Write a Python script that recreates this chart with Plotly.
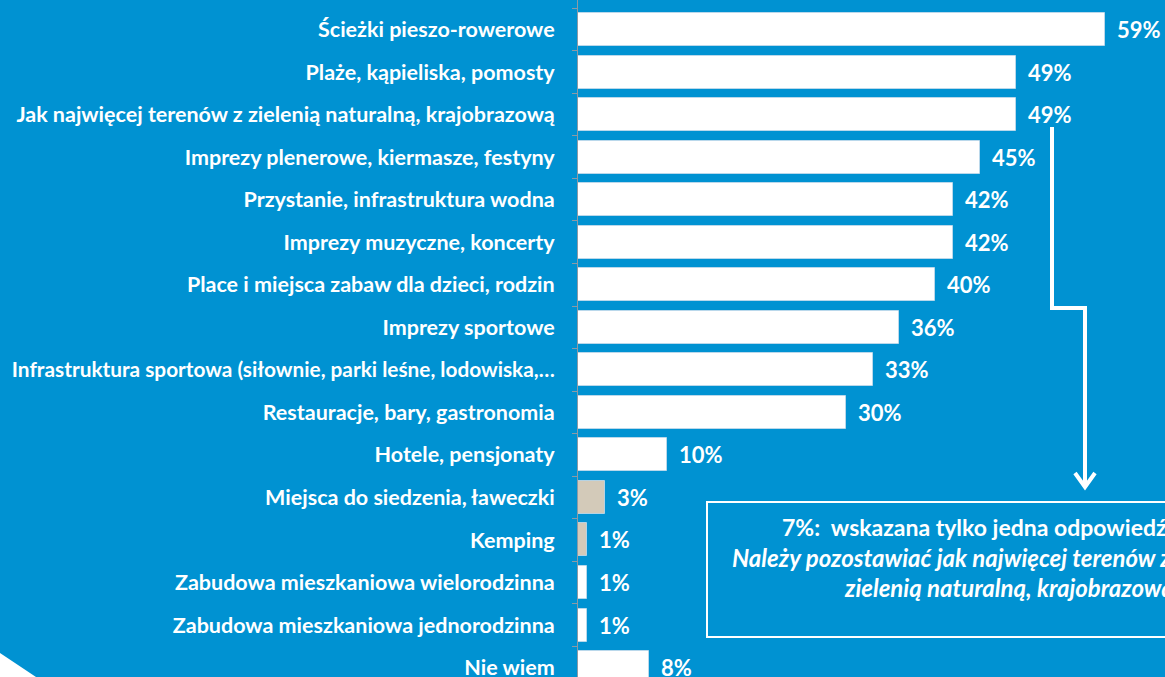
import plotly.graph_objects as go

categories = [
    "Ścieżki pieszo-rowerowe",
    "Plaże, kąpieliska, pomosty",
    "Jak najwięcej terenów z zielenią naturalną, krajobrazową",
    "Imprezy plenerowe, kiermasze, festyny",
    "Przystanie, infrastruktura wodna",
    "Imprezy muzyczne, koncerty",
    "Place i miejsca zabaw dla dzieci, rodzin",
    "Imprezy sportowe",
    "Infrastruktura sportowa (siłownie, parki leśne, lodowiska,…",
    "Restauracje, bary, gastronomia",
    "Hotele, pensjonaty",
    "Miejsca do siedzenia, ławeczki",
    "Kemping",
    "Zabudowa mieszkaniowa wielorodzinna",
    "Zabudowa mieszkaniowa jednorodzinna",
    "Nie wiem",
]
values = [59, 49, 49, 45, 42, 42, 40, 36, 33, 30, 10, 3, 1, 1, 1, 8]
highlight = [False] * 11 + [True, True] + [False] * 3
value_labels = [f"{v}%" for v in values]

note_line1 = "7%:  wskazana tylko jedna odpowiedź"
note_line2 = "Należy pozostawiać jak najwięcej terenów z"
note_line3 = "zielenią naturalną, krajobrazową"

BG = "#0092D2"
BEIGE = "#D3CAB9"
W, H = 1165, 677
L = 578
FONT = "Lato"

ypos = list(range(len(categories)))
colors = [BEIGE if h else "white" for h in highlight]

def tick_label(c):
    if len(c) > 56:
        return f"<span style='font-size:20.8px'><b>{c}</b></span>"
    return f"<b>{c}</b>"

fig = go.Figure()
fig.add_trace(go.Bar(
    x=values, y=ypos, orientation="h",
    marker=dict(color=colors, line=dict(color="rgba(200,220,235,0.8)", width=1)),
    width=0.776, hoverinfo="skip",
))

for v, yy, lab in zip(values, ypos, value_labels):
    fig.add_annotation(x=v, y=yy, xref="x", yref="y", text=f"<b>{lab}</b>",
                       showarrow=False, xanchor="left", yanchor="middle", xshift=10,
                       font=dict(family=FONT, size=22, color="white"))

def px(xp):
    return (xp - L) / (W - L)

def py(yp):
    return 1 - yp / H

line_w = 4
# stepped connector from the 49% label
fig.add_shape(type="path", xref="paper", yref="paper",
              path=f"M {px(1052)} {py(127)} L {px(1052)} {py(308)} L {px(1085)} {py(308)} L {px(1085)} {py(486)}",
              line=dict(color="white", width=line_w))
fig.add_shape(type="path", xref="paper", yref="paper",
              path=f"M {px(1075)} {py(473)} L {px(1085)} {py(487)} L {px(1095)} {py(473)}",
              line=dict(color="white", width=line_w))
# note box
fig.add_shape(type="rect", xref="paper", yref="paper",
              x0=px(707), x1=px(1200), y0=py(637), y1=py(502),
              line=dict(color="white", width=2))
fig.add_annotation(xref="paper", yref="paper", x=px(780), y=py(527), xanchor="left", yanchor="middle",
                   text=f"<b>{note_line1}</b>", showarrow=False,
                   font=dict(family=FONT, size=23, color="white"))
fig.add_annotation(xref="paper", yref="paper", x=px(730), y=py(557), xanchor="left", yanchor="middle",
                   text=f"<b><i>{note_line2}</i></b>", showarrow=False,
                   font=dict(family=FONT, size=24, color="white"))
fig.add_annotation(xref="paper", yref="paper", x=px(842), y=py(587), xanchor="left", yanchor="middle",
                   text=f"<b><i>{note_line3}</i></b>", showarrow=False,
                   font=dict(family=FONT, size=24, color="white"))
# decorative white corner
fig.add_shape(type="path", xref="paper", yref="paper",
              path=f"M {px(0)} {py(653)} L {px(36)} {py(677)} L {px(0)} {py(677)} Z",
              fillcolor="white", line=dict(width=0))

fig.update_layout(
    width=W, height=H,
    paper_bgcolor=BG, plot_bgcolor=BG,
    margin=dict(l=L, r=0, t=0, b=0),
    showlegend=False,
    bargap=0,
    xaxis=dict(range=[0, (W - L) / 8.93], visible=False, fixedrange=True),
    yaxis=dict(
        range=[(H - 29.5) / 42.54, -29.5 / 42.54],
        tickvals=ypos,
        ticktext=[tick_label(c) for c in categories],
        tickfont=dict(family=FONT, size=21.5, color="white"),
        ticks="", showgrid=False, zeroline=False,
        showline=True, linecolor="#8C9AA5", linewidth=1,
        ticklabelstandoff=18, ticklabeloverflow="allow",
        minor=dict(tickvals=[i - 0.5 for i in range(len(categories) + 1)],
                   ticks="outside", ticklen=5, tickcolor="#8C9AA5", tickwidth=1),
        automargin=False, fixedrange=True,
    ),
)

fig.write_html("out.html", config={"displayModeBar": False},
               post_script="document.body.style.margin='0';document.body.style.overflow='hidden';")
